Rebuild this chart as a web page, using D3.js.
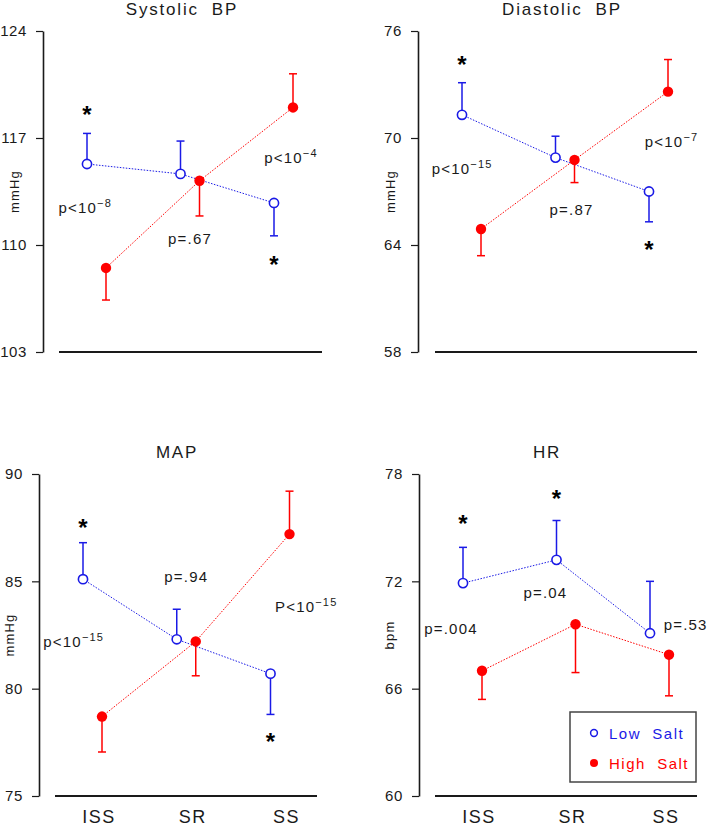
<!DOCTYPE html>
<html>
<head>
<meta charset="utf-8">
<script src="https://cdn.jsdelivr.net/npm/d3@7"></script>
<style>
  html, body { margin: 0; padding: 0; background: #fff; }
  svg { display: block; font-family: "Liberation Sans", Arial, Helvetica, sans-serif; }
  text { white-space: pre; }
</style>
</head>
<body>
<svg id="chart" width="709" height="827"></svg>
<script>
// ---------------- DATA ----------------
const categories = ["ISS", "SR", "SS"];
const seriesNames = ["Low Salt", "High Salt"];

// Systolic BP
const sbpTicks = [103, 110, 117, 124];
const sbpLow = [115.3, 114.65, 112.75];
const sbpLowErr = [117.3, 116.8, 110.6];
const sbpHigh = [108.5, 114.2, 119.0];
const sbpHighErr = [106.4, 111.9, 121.2];
const sbpPLabels = [["p<10", "−8"], ["p=.67", ""], ["p<10", "−4"]];
const sbpPPos = [[-0.12, 112.1], [1.0, 110.05], [2.08, 115.35]];
const sbpStars = [[0, 118.8], [2, 109.0]];

// Diastolic BP
const dbpTicks = [58, 64, 70, 76];
const dbpLow = [71.3, 68.9, 67.0];
const dbpLowErr = [73.1, 70.1, 65.3];
const dbpHigh = [64.9, 68.77, 72.6];
const dbpHighErr = [63.4, 67.5, 74.4];
const dbpPLabels = [["p<10", "−15"], ["p=.87", ""], ["p<10", "−7"]];
const dbpPPos = [[-0.1, 67.98], [1.07, 65.7], [2.14, 69.5]];
const dbpStars = [[0, 74.4], [2, 64.0]];

// MAP
const mapTicks = [75, 80, 85, 90];
const mapLow = [85.1, 82.3, 80.7];
const mapLowErr = [86.8, 83.7, 78.8];
const mapHigh = [78.7, 82.2, 87.2];
const mapHighErr = [77.05, 80.6, 89.2];
const mapPLabels = [["p<10", "−15"], ["p=.94", ""], ["P<10", "−15"]];
const mapPPos = [[-0.2, 81.95], [1.0, 84.97], [2.28, 83.57]];
const mapStars = [[0, 87.7], [2, 77.75]];

// HR
const hrTicks = [60, 66, 72, 78];
const hrLow = [71.9, 73.2, 69.1];
const hrLowErr = [73.9, 75.4, 72.0];
const hrHigh = [67.0, 69.6, 67.9];
const hrHighErr = [65.4, 66.9, 65.6];
const hrPLabels = [["p=.004", ""], ["p=.04", ""], ["p=.53", ""]];
const hrPPos = [[-0.23, 69.06], [0.78, 71.07], [2.28, 69.28]];
const hrStars = [[0, 75.5], [1, 76.9]];

// ---------------- LAYOUT / STYLE ----------------
const BLUE = "#1a1ae6";
const RED = "#ff0000";
const INK = "#1a1a1a";

const panels = [
  { title: "Systolic  BP", ylab: "mmHg", ax: 43, top: 31, bottom: 352, c0: 96.5, c2: 283.5, base: [59, 322],
    tx: 182, ty: 15, lx: 19.3, ly: 191.5, xlabels: false,
    ticks: sbpTicks, low: sbpLow, lowErr: sbpLowErr, high: sbpHigh, highErr: sbpHighErr,
    pl: sbpPLabels, pp: sbpPPos, stars: sbpStars },
  { title: "Diastolic  BP", ylab: "mmHg", ax: 418, top: 31, bottom: 352, c0: 471.5, c2: 658.5, base: [435, 697],
    tx: 562, ty: 15, lx: 395.3, ly: 191.5, xlabels: false,
    ticks: dbpTicks, low: dbpLow, lowErr: dbpLowErr, high: dbpHigh, highErr: dbpHighErr,
    pl: dbpPLabels, pp: dbpPPos, stars: dbpStars },
  { title: "MAP", ylab: "mmHg", ax: 39, top: 474, bottom: 796, c0: 92.5, c2: 280, base: [55, 317],
    tx: 177, ty: 458, lx: 14.3, ly: 635, xlabels: true,
    ticks: mapTicks, low: mapLow, lowErr: mapLowErr, high: mapHigh, highErr: mapHighErr,
    pl: mapPLabels, pp: mapPPos, stars: mapStars },
  { title: "HR", ylab: "bpm", ax: 419, top: 474, bottom: 796, c0: 472.5, c2: 659.5, base: [435, 697],
    tx: 547, ty: 458, lx: 393.5, ly: 635, xlabels: true, legend: true,
    ticks: hrTicks, low: hrLow, lowErr: hrLowErr, high: hrHigh, highErr: hrHighErr,
    pl: hrPLabels, pp: hrPPos, stars: hrStars }
];

const svg = d3.select("#chart");
const OFF = 9.5;   // horizontal dodge of the two series
const CAP = 4;     // half-width of error bar caps

panels.forEach(p => {
  const g = svg.append("g");
  const y = d3.scaleLinear().domain([p.ticks[0], p.ticks[p.ticks.length - 1]]).range([p.bottom, p.top]);
  const x = d3.scalePoint().domain(categories).range([p.c0, p.c2]);
  const xi = d3.scaleLinear().domain([0, categories.length - 1]).range([p.c0, p.c2]);

  // y axis
  const yAxis = d3.axisLeft(y).tickValues(p.ticks).tickSize(7).tickSizeOuter(0).tickPadding(9).tickFormat(d3.format("d"));
  const ag = g.append("g").attr("transform", `translate(${p.ax},0)`).call(yAxis);
  ag.select(".domain").attr("stroke", INK).attr("stroke-width", 1.6);
  ag.selectAll(".tick line").attr("stroke", INK).attr("stroke-width", 1.2);
  ag.selectAll(".tick text").attr("fill", INK).attr("font-size", 15).attr("font-family", "Liberation Sans, Arial, sans-serif")
    .attr("letter-spacing", 0.6);

  // base line
  g.append("line").attr("x1", p.base[0]).attr("x2", p.base[1]).attr("y1", p.bottom).attr("y2", p.bottom)
    .attr("stroke", INK).attr("stroke-width", 2);

  // title
  g.append("text").attr("x", p.tx).attr("y", p.ty).attr("text-anchor", "middle")
    .attr("font-size", 17).attr("letter-spacing", 1.8).attr("fill", INK).text(p.title);

  // y label
  g.append("text").attr("transform", `translate(${p.lx},${p.ly}) rotate(-90)`).attr("text-anchor", "middle")
    .attr("font-size", 13).attr("letter-spacing", 1.2).attr("fill", INK).text(p.ylab);

  // x labels
  if (p.xlabels) {
    g.selectAll(".xl").data(categories).enter().append("text")
      .attr("x", d => x(d) + 6.5).attr("y", 823).attr("text-anchor", "middle")
      .attr("font-size", 18).attr("letter-spacing", 1.5).attr("fill", INK).text(d => d);
  }

  const series = [
    { vals: p.low, err: p.lowErr, color: BLUE, dx: -OFF, open: true },
    { vals: p.high, err: p.highErr, color: RED, dx: OFF, open: false }
  ];

  // dotted connecting lines
  series.forEach(s => {
    const line = d3.line().x((d, i) => x(categories[i]) + s.dx).y(d => y(d));
    g.append("path").datum(s.vals).attr("d", line).attr("fill", "none")
      .attr("stroke", s.color).attr("stroke-width", 1).attr("stroke-dasharray", "1.5,1.5");
  });

  // error bars
  series.forEach(s => {
    s.vals.forEach((v, i) => {
      const cx = x(categories[i]) + s.dx;
      g.append("line").attr("x1", cx).attr("x2", cx).attr("y1", y(v)).attr("y2", y(s.err[i]))
        .attr("stroke", s.color).attr("stroke-width", 1.5);
      g.append("line").attr("x1", cx - CAP).attr("x2", cx + CAP).attr("y1", y(s.err[i])).attr("y2", y(s.err[i]))
        .attr("stroke", s.color).attr("stroke-width", 1.5);
    });
  });

  // points
  series.forEach(s => {
    g.selectAll(null).data(s.vals).enter().append("circle")
      .attr("cx", (d, i) => x(categories[i]) + s.dx).attr("cy", d => y(d))
      .attr("r", s.open ? 4.6 : 5.2)
      .attr("fill", s.open ? "#fff" : s.color)
      .attr("stroke", s.color).attr("stroke-width", s.open ? 1.6 : 0);
  });

  // stars
  g.selectAll(null).data(p.stars).enter().append("text")
    .attr("x", d => xi(d[0]) - OFF).attr("y", d => y(d[1]) + 13)
    .attr("text-anchor", "middle").attr("font-size", 24).attr("font-weight", "bold").attr("fill", "#000").text("*");

  // p-value labels
  p.pl.forEach((lab, i) => {
    const t = g.append("text").attr("x", xi(p.pp[i][0])).attr("y", y(p.pp[i][1]))
      .attr("text-anchor", "middle").attr("font-size", 15).attr("letter-spacing", 1.2).attr("fill", INK);
    t.append("tspan").text(lab[0]);
    if (lab[1]) t.append("tspan").attr("dy", -6).attr("font-size", 11).text(lab[1]);
  });

  // legend
  if (p.legend) {
    const lg = g.append("g");
    lg.append("rect").attr("x", 570).attr("y", 712).attr("width", 126).attr("height", 70)
      .attr("fill", "#fff").attr("stroke", "#444").attr("stroke-width", 1.5);
    seriesNames.forEach((nm, i) => {
      const s = series[i];
      const cy = 733 + i * 30;
      lg.append("circle").attr("cx", 594).attr("cy", cy).attr("r", s.open ? 3.4 : 4)
        .attr("fill", s.open ? "#fff" : s.color).attr("stroke", s.color).attr("stroke-width", s.open ? 1.5 : 0);
      lg.append("text").attr("x", 609).attr("y", cy + 5.5).attr("font-size", 15).attr("letter-spacing", 1.5)
        .attr("fill", s.color).text(nm.replace(" ", "  "));
    });
  }
});
</script>
</body>
</html>
